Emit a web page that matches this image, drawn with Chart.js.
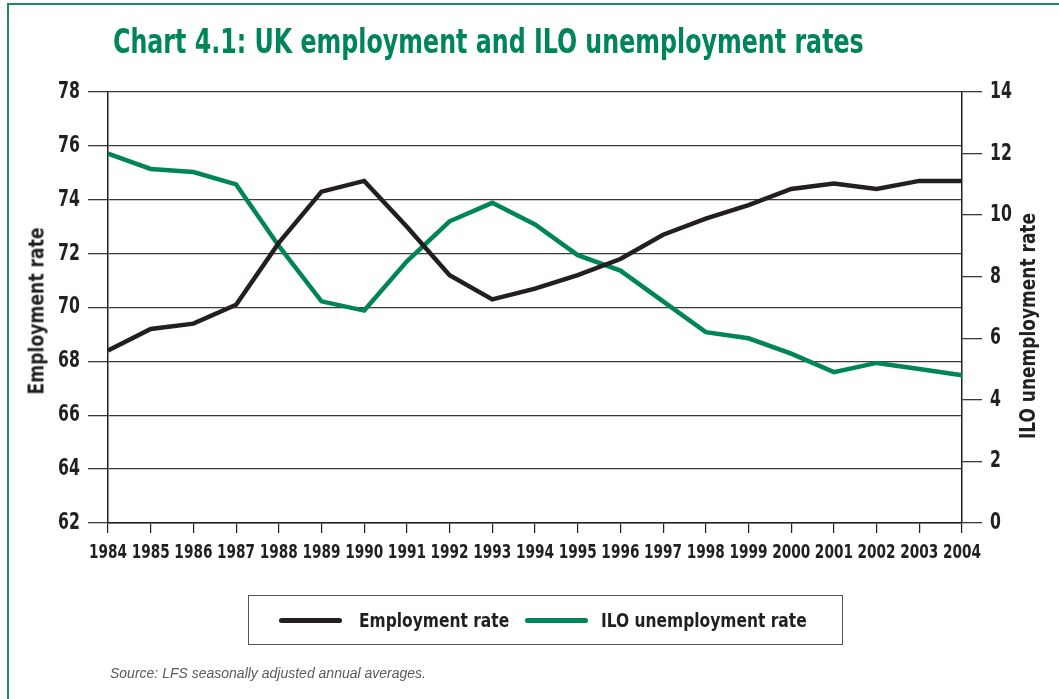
<!DOCTYPE html>
<html>
<head>
<meta charset="utf-8">
<script src="https://cdn.jsdelivr.net/npm/chart.js@4/dist/chart.umd.min.js"></script>
<style>
  body { margin: 0; background: #fff; overflow: hidden; }
  #wrap { position: relative; width: 1059px; height: 699px; overflow: hidden; background: #fff; }
  #frame { position: absolute; left: 7px; top: 3px; width: 1200px; height: 900px; border: 2px solid #1f8a5f; }
  #chart { position: absolute; left: 0; top: 0; }
  .cond { font-family: "DejaVu Sans Condensed", "Liberation Sans", sans-serif; font-weight: bold; }
  #title { position: absolute; left: 113px; top: 22px; font-size: 33px; color: #00845a; white-space: nowrap; transform: scaleX(0.8); transform-origin: 0 0; }
  .ytitle { position: absolute; color: #231f20; white-space: nowrap; }
  #legend { position: absolute; left: 248px; top: 595px; width: 595px; height: 50px; border: 1.5px solid #555; box-sizing: border-box; }
  .sw { position: absolute; top: 22px; height: 5px; border-radius: 3px; }
  .lt { position: absolute; top: 12px; font-size: 20px; color: #231f20; white-space: nowrap; transform: scaleX(0.86); transform-origin: 0 0; }
  #source { position: absolute; left: 110px; top: 665px; font-family: "Liberation Sans", sans-serif; font-style: italic; font-size: 14px; color: #5a5a5a; }
</style>
</head>
<body>
<div id="wrap">
  <div id="frame"></div>
  <canvas id="chart" width="1059" height="699"></canvas>
  <div id="title" class="cond">Chart 4.1: UK employment and ILO unemployment rates</div>
  <div class="ytitle cond" style="left:36px; top:311px; font-size:22px; transform: translate(-50%, -50%) rotate(-90deg) scaleX(0.87);">Employment rate</div>
  <div class="ytitle cond" style="left:1028px; top:326px; font-size:21px; transform: translate(-50%, -50%) rotate(-90deg) scaleX(0.9);">ILO unemployment rate</div>
  <div id="legend">
    <div class="sw" style="left:30px; width:63px; background:#231f20;"></div>
    <div class="lt cond" style="left:110px;">Employment rate</div>
    <div class="sw" style="left:276px; width:63px; background:#00845a;"></div>
    <div class="lt cond" style="left:352px;">ILO unemployment rate</div>
  </div>
  <div id="source">Source: LFS seasonally adjusted annual averages.</div>
</div>
<script>
const years = ['1984', '1985', '1986', '1987', '1988', '1989', '1990', '1991', '1992', '1993', '1994',
  '1995', '1996', '1997', '1998', '1999', '2000', '2001', '2002', '2003', '2004'];
const employmentRate = [68.4, 69.2, 69.4, 70.1, 72.4, 74.3, 74.7, 73.0, 71.2, 70.3, 70.7,
  71.2, 71.8, 72.7, 73.3, 73.8, 74.4, 74.6, 74.4, 74.7, 74.7];
const iloRate = [12.0, 11.5, 11.4, 11.0, 9.0, 7.2, 6.9, 8.5, 9.8, 10.4, 9.7,
  8.7, 8.2, 7.2, 6.2, 6.0, 5.5, 4.9, 5.2, 5.0, 4.8];

const ink = '#231f20';
const green = '#00845a';

// the condensed face is still too wide for these labels, so squeeze it a bit
function drawSqueezed(ctx, scale, size, squeeze, align, posFn) {
  ctx.font = 'bold ' + size + 'px "DejaVu Sans Condensed", sans-serif';
  ctx.textAlign = align;
  scale.ticks.forEach((t, i) => {
    const p = posFn(scale.getPixelForTick(i));
    ctx.save();
    ctx.translate(p[0], p[1]);
    ctx.scale(squeeze, 1);
    ctx.fillText(t.label, 0, 0);
    ctx.restore();
  });
}

const narrowLabels = {
  id: 'narrowLabels',
  afterDraw(chart) {
    const ctx = chart.ctx;
    const { x, y, y2 } = chart.scales;
    ctx.save();
    ctx.fillStyle = ink;
    ctx.textBaseline = 'middle';
    drawSqueezed(ctx, x, 20, 0.76, 'center', px => [px, x.top + 30]);
    drawSqueezed(ctx, y, 23, 0.76, 'right', py => [y.right - 28, py]);
    drawSqueezed(ctx, y2, 23, 0.76, 'left', py => [y2.left + 28, py]);
    ctx.restore();
  }
};

new Chart(document.getElementById('chart').getContext('2d'), {
  type: 'line',
  data: {
    labels: years,
    datasets: [
      {
        label: 'Employment rate',
        data: employmentRate,
        yAxisID: 'y',
        borderColor: ink,
        borderWidth: 4.5,
        pointRadius: 0,
        tension: 0
      },
      {
        label: 'ILO unemployment rate',
        data: iloRate,
        yAxisID: 'y2',
        borderColor: green,
        borderWidth: 4.5,
        pointRadius: 0,
        tension: 0
      }
    ]
  },
  options: {
    responsive: false,
    animation: false,
    layout: { padding: { top: 92, left: 0, right: 0, bottom: 0 } },
    plugins: { legend: { display: false }, tooltip: { enabled: false } },
    scales: {
      x: {
        afterFit: s => { s.height = 176; },
        grid: { drawOnChartArea: false, color: ink, tickLength: 10, lineWidth: 1.2 },
        border: { color: ink, width: 1.5 },
        ticks: { display: false, autoSkip: false }
      },
      y: {
        position: 'left',
        min: 62, max: 78,
        afterFit: s => { s.width = 108; },
        grid: { color: '#3a3a3a', lineWidth: 1.3, tickLength: 20 },
        border: { color: ink, width: 1.5 },
        ticks: { display: false, stepSize: 2 }
      },
      y2: {
        position: 'right',
        min: 0, max: 14,
        afterFit: s => { s.width = 97; },
        grid: { drawOnChartArea: false, color: '#3a3a3a', lineWidth: 1.3, tickLength: 20 },
        border: { color: ink, width: 1.5 },
        ticks: { display: false, stepSize: 2 }
      }
    }
  },
  plugins: [narrowLabels]
});
</script>
</body>
</html>
